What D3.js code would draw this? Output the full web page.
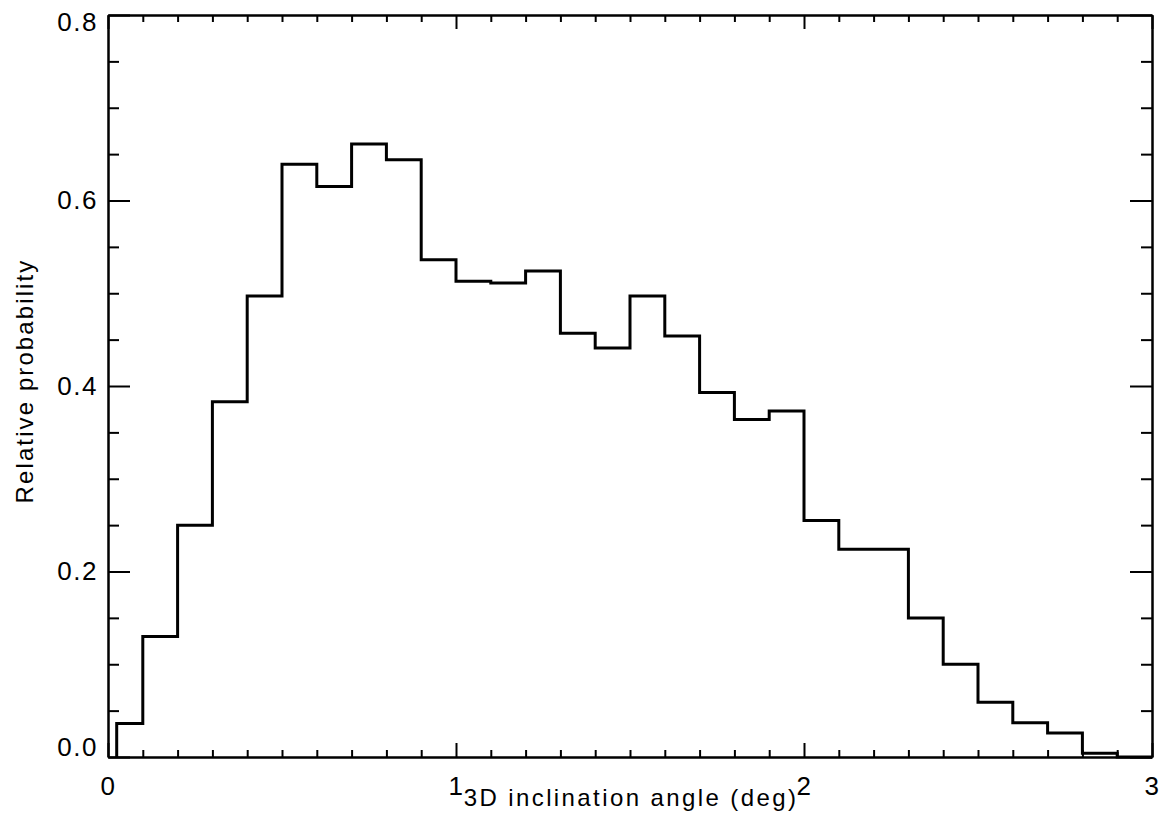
<!DOCTYPE html>
<html>
<head>
<meta charset="utf-8">
<script src="https://cdn.jsdelivr.net/npm/d3@7"></script>
<style>
  body { margin: 0; background: #fff; }
  svg { display: block; font-family: "Liberation Sans", Arial, Helvetica, sans-serif; }
</style>
</head>
<body>
<div id="chart"></div>
<script>
// bin edges of the histogram (deg)
var binEdges = [0.025, 0.1, 0.2, 0.3, 0.4, 0.5, 0.6, 0.7, 0.8, 0.9, 1.0,
    1.1, 1.2, 1.3, 1.4, 1.5, 1.6, 1.7, 1.8, 1.9, 2.0,
    2.1, 2.2, 2.3, 2.4, 2.5, 2.6, 2.7, 2.8, 2.9, 3.0];

// relative probability per bin
var probValues = [0.036, 0.130, 0.250, 0.383, 0.497, 0.639, 0.615, 0.661, 0.644, 0.536,
    0.513, 0.511, 0.524, 0.457, 0.441, 0.497, 0.454, 0.393, 0.364, 0.373,
    0.255, 0.224, 0.224, 0.150, 0.100, 0.059, 0.037, 0.026, 0.004, 0.0];

var xMajor = [0, 1, 2, 3];
var xMinor = [0.1, 0.2, 0.3, 0.4, 0.5, 0.6, 0.7, 0.8, 0.9, 1.1, 1.2, 1.3, 1.4, 1.5, 1.6, 1.7, 1.8, 1.9,
    2.1, 2.2, 2.3, 2.4, 2.5, 2.6, 2.7, 2.8, 2.9];
var yMajor = [0, 0.2, 0.4, 0.6, 0.8];
var yMinor = [0.05, 0.1, 0.15, 0.25, 0.3, 0.35, 0.45, 0.5, 0.55, 0.65, 0.7, 0.75];

var xTitle = "3D inclination angle (deg)";
var yTitle = "Relative probability";

function init() {
    const W = 1174, H = 839;
    const left = 108, right = 1152, top = 15, bottom = 757;

    var svg = d3.select("#chart").append("svg")
        .attr("width", W)
        .attr("height", H);

    var x = d3.scaleLinear().domain([0, 3]).range([left, right]);
    var y = d3.scaleLinear().domain([0, 0.8]).range([bottom, top]);

    // helper to style axis groups
    function styleAxis(g) {
        g.attr("font-family", null).attr("font-size", 26);
        g.selectAll("path, line").attr("stroke", "#000").attr("stroke-width", 2);
        g.selectAll("text").attr("fill", "#000").attr("letter-spacing", "1.5px");
    }

    // bottom axis: major ticks with labels, ticks point inward
    svg.append("g")
        .attr("transform", `translate(0,${bottom})`)
        .call(d3.axisBottom(x).tickValues(xMajor).tickFormat(d3.format("d"))
            .tickSizeInner(-14).tickSizeOuter(0).tickPadding(20))
        .call(styleAxis);
    svg.append("g")
        .attr("transform", `translate(0,${bottom})`)
        .call(d3.axisBottom(x).tickValues(xMinor).tickFormat("")
            .tickSizeInner(-7).tickSizeOuter(0))
        .call(styleAxis);

    // top axis (mirror)
    svg.append("g")
        .attr("transform", `translate(0,${top})`)
        .call(d3.axisTop(x).tickValues(xMajor).tickFormat("")
            .tickSizeInner(-14).tickSizeOuter(0))
        .call(styleAxis);
    svg.append("g")
        .attr("transform", `translate(0,${top})`)
        .call(d3.axisTop(x).tickValues(xMinor).tickFormat("")
            .tickSizeInner(-7).tickSizeOuter(0))
        .call(styleAxis);

    // left axis
    var yAxisG = svg.append("g")
        .attr("transform", `translate(${left},0)`)
        .call(d3.axisLeft(y).tickValues(yMajor).tickFormat(d3.format(".1f"))
            .tickSizeInner(-22).tickSizeOuter(0).tickPadding(10))
        .call(styleAxis);
    // end labels pulled inside the frame, like the original
    yAxisG.selectAll(".tick text")
        .attr("dy", d => d === 0 ? "-0.04em" : d === 0.8 ? "0.6em" : "0.32em");

    svg.append("g")
        .attr("transform", `translate(${left},0)`)
        .call(d3.axisLeft(y).tickValues(yMinor).tickFormat("")
            .tickSizeInner(-11).tickSizeOuter(0))
        .call(styleAxis);

    // right axis (mirror)
    svg.append("g")
        .attr("transform", `translate(${right},0)`)
        .call(d3.axisRight(y).tickValues(yMajor).tickFormat("")
            .tickSizeInner(-22).tickSizeOuter(0))
        .call(styleAxis);
    svg.append("g")
        .attr("transform", `translate(${right},0)`)
        .call(d3.axisRight(y).tickValues(yMinor).tickFormat("")
            .tickSizeInner(-11).tickSizeOuter(0))
        .call(styleAxis);

    // histogram outline as a step line
    var pts = [[binEdges[0], 0]];
    probValues.forEach((v, i) => pts.push([binEdges[i], v]));
    pts.push([binEdges[binEdges.length - 1], probValues[probValues.length - 1]]);

    var line = d3.line()
        .x(d => x(d[0]))
        .y(d => y(d[1]))
        .curve(d3.curveStepAfter);

    svg.append("path")
        .datum(pts)
        .attr("d", line)
        .attr("fill", "none")
        .attr("stroke", "#000")
        .attr("stroke-width", 3)
        .attr("stroke-linejoin", "miter");

    // axis titles
    svg.append("text")
        .attr("x", (left + right) / 2 + 1)
        .attr("y", 806)
        .attr("text-anchor", "middle")
        .attr("font-size", 24)
        .attr("letter-spacing", "2.4px")
        .text(xTitle);

    svg.append("text")
        .attr("transform", `translate(33,381) rotate(-90)`)
        .attr("text-anchor", "middle")
        .attr("font-size", 24)
        .attr("letter-spacing", "2.1px")
        .text(yTitle);
}

init();
</script>
</body>
</html>
